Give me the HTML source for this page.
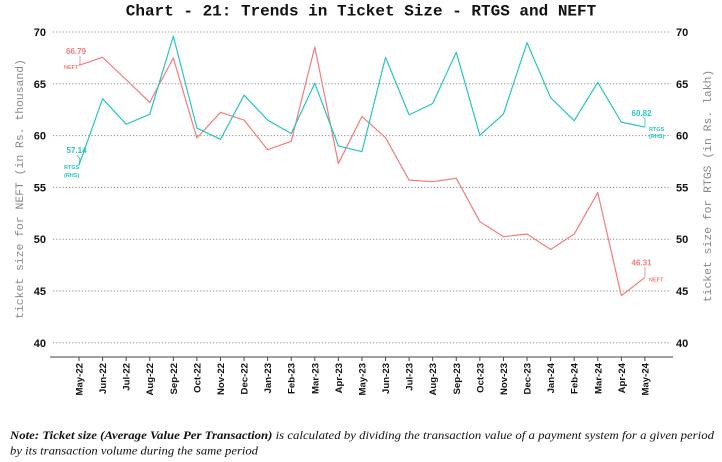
<!DOCTYPE html>
<html>
<head>
<meta charset="utf-8">
<style>
html,body{margin:0;padding:0;background:#fff;}
svg{display:block;}
</style>
</head>
<body>
<svg width="722" height="462" viewBox="0 0 722 462" xmlns="http://www.w3.org/2000/svg">
<rect width="722" height="462" fill="#fff"/>
<!-- Title -->
<text x="361" y="15.5" text-anchor="middle" font-family="'Liberation Mono', monospace" font-weight="bold" font-size="16" fill="#111">Chart - 21: Trends in Ticket Size - RTGS and NEFT</text>

<!-- Gridlines -->
<g stroke="#8c8c8c" stroke-width="1" stroke-dasharray="1.2,2" fill="none">
<line x1="53" y1="32" x2="671" y2="32"/>
<line x1="53" y1="83.8" x2="671" y2="83.8"/>
<line x1="53" y1="135.6" x2="671" y2="135.6"/>
<line x1="53" y1="187.4" x2="671" y2="187.4"/>
<line x1="53" y1="239.2" x2="671" y2="239.2"/>
<line x1="53" y1="291" x2="671" y2="291"/>
<line x1="53" y1="342.8" x2="671" y2="342.8"/>
</g>

<!-- Axis line -->
<line x1="50" y1="357" x2="673" y2="357" stroke="#a0a0a0" stroke-width="2"/>
<g stroke="#444" stroke-width="1">
<line x1="79" y1="357" x2="79" y2="361"/>
<line x1="102.58" y1="357" x2="102.58" y2="361"/>
<line x1="126.16" y1="357" x2="126.16" y2="361"/>
<line x1="149.74" y1="357" x2="149.74" y2="361"/>
<line x1="173.32" y1="357" x2="173.32" y2="361"/>
<line x1="196.9" y1="357" x2="196.9" y2="361"/>
<line x1="220.48" y1="357" x2="220.48" y2="361"/>
<line x1="244.06" y1="357" x2="244.06" y2="361"/>
<line x1="267.64" y1="357" x2="267.64" y2="361"/>
<line x1="291.22" y1="357" x2="291.22" y2="361"/>
<line x1="314.8" y1="357" x2="314.8" y2="361"/>
<line x1="338.38" y1="357" x2="338.38" y2="361"/>
<line x1="361.96" y1="357" x2="361.96" y2="361"/>
<line x1="385.54" y1="357" x2="385.54" y2="361"/>
<line x1="409.12" y1="357" x2="409.12" y2="361"/>
<line x1="432.7" y1="357" x2="432.7" y2="361"/>
<line x1="456.28" y1="357" x2="456.28" y2="361"/>
<line x1="479.86" y1="357" x2="479.86" y2="361"/>
<line x1="503.44" y1="357" x2="503.44" y2="361"/>
<line x1="527.02" y1="357" x2="527.02" y2="361"/>
<line x1="550.6" y1="357" x2="550.6" y2="361"/>
<line x1="574.18" y1="357" x2="574.18" y2="361"/>
<line x1="597.76" y1="357" x2="597.76" y2="361"/>
<line x1="621.34" y1="357" x2="621.34" y2="361"/>
<line x1="644.92" y1="357" x2="644.92" y2="361"/>
</g>

<!-- Left tick labels -->
<g font-family="'Liberation Sans', Arial, sans-serif" font-weight="bold" font-size="11" fill="#111" text-anchor="end">
<text x="46" y="36">70</text>
<text x="46" y="87.8">65</text>
<text x="46" y="139.6">60</text>
<text x="46" y="191.4">55</text>
<text x="46" y="243.2">50</text>
<text x="46" y="295">45</text>
<text x="46" y="346.8">40</text>
</g>
<!-- Right tick labels -->
<g font-family="'Liberation Sans', Arial, sans-serif" font-weight="bold" font-size="11" fill="#111" text-anchor="start">
<text x="676" y="36">70</text>
<text x="676" y="87.8">65</text>
<text x="676" y="139.6">60</text>
<text x="676" y="191.4">55</text>
<text x="676" y="243.2">50</text>
<text x="676" y="295">45</text>
<text x="676" y="346.8">40</text>
</g>

<!-- Axis titles -->
<text transform="translate(23,189) rotate(-90)" text-anchor="middle" font-family="'Liberation Mono', monospace" font-size="11.4" fill="#8a8a8a">ticket size for NEFT (in Rs. thousand)</text>
<text transform="translate(711,186) rotate(-90)" text-anchor="middle" font-family="'Liberation Mono', monospace" font-size="11.4" fill="#8a8a8a">ticket size for RTGS (in Rs. lakh)</text>

<!-- X labels -->
<g font-family="'Liberation Sans', Arial, sans-serif" font-weight="bold" font-size="9.6" fill="#111" text-anchor="end">
<text transform="translate(82.5,363) rotate(-90)">May-22</text>
<text transform="translate(106.08,363) rotate(-90)">Jun-22</text>
<text transform="translate(129.66,363) rotate(-90)">Jul-22</text>
<text transform="translate(153.24,363) rotate(-90)">Aug-22</text>
<text transform="translate(176.82,363) rotate(-90)">Sep-22</text>
<text transform="translate(200.4,363) rotate(-90)">Oct-22</text>
<text transform="translate(223.98,363) rotate(-90)">Nov-22</text>
<text transform="translate(247.56,363) rotate(-90)">Dec-22</text>
<text transform="translate(271.14,363) rotate(-90)">Jan-23</text>
<text transform="translate(294.72,363) rotate(-90)">Feb-23</text>
<text transform="translate(318.3,363) rotate(-90)">Mar-23</text>
<text transform="translate(341.88,363) rotate(-90)">Apr-23</text>
<text transform="translate(365.46,363) rotate(-90)">May-23</text>
<text transform="translate(389.04,363) rotate(-90)">Jun-23</text>
<text transform="translate(412.62,363) rotate(-90)">Jul-23</text>
<text transform="translate(436.2,363) rotate(-90)">Aug-23</text>
<text transform="translate(459.78,363) rotate(-90)">Sep-23</text>
<text transform="translate(483.36,363) rotate(-90)">Oct-23</text>
<text transform="translate(506.94,363) rotate(-90)">Nov-23</text>
<text transform="translate(530.52,363) rotate(-90)">Dec-23</text>
<text transform="translate(554.1,363) rotate(-90)">Jan-24</text>
<text transform="translate(577.68,363) rotate(-90)">Feb-24</text>
<text transform="translate(601.26,363) rotate(-90)">Mar-24</text>
<text transform="translate(624.84,363) rotate(-90)">Apr-24</text>
<text transform="translate(648.42,363) rotate(-90)">May-24</text>
</g>

<!-- NEFT series -->
<polyline fill="none" stroke="#F47C7C" stroke-width="1.2" stroke-linejoin="round" points="79,65.26 102.58,57.28 126.16,79.66 149.74,102.45 173.32,57.9 196.9,137.98 220.48,112.29 244.06,120.06 267.64,149.69 291.22,141.3 314.8,47.02 338.38,163.57 361.96,116.43 385.54,137.67 409.12,180.15 432.7,181.7 456.28,178.28 479.86,221.59 503.44,236.71 527.02,234.02 550.6,249.56 574.18,234.02 597.76,192.58 621.34,295.66 644.92,277.43"/>

<!-- RTGS series -->
<polyline fill="none" stroke="#27C6BE" stroke-width="1.2" stroke-linejoin="round" points="79,165.23 102.58,98.72 126.16,124.2 149.74,114.36 173.32,36.14 196.9,128.04 220.48,139.33 244.06,95.2 267.64,120.06 291.22,133.53 314.8,83.28 338.38,145.96 361.96,151.66 385.54,57.38 409.12,114.88 432.7,103.48 456.28,52.31 479.86,135.29 503.44,114.05 527.02,42.67 550.6,97.68 574.18,120.68 597.76,82.35 621.34,122.13 644.92,127.1"/>

<!-- Annotations -->
<g font-family="'Liberation Sans', Arial, sans-serif" font-weight="bold">
<text x="66" y="54" font-size="8" fill="#F47C7C">66.79</text>
<text x="64" y="69" font-size="5.5" fill="#F47C7C">NEFT</text>
<path d="M80,56 L80,64 L79,65" stroke="#F47C7C" stroke-width="0.8" fill="none"/>

<text x="66.5" y="153" font-size="8" fill="#27C6BE">57.14</text>
<text x="64" y="169" font-size="5.5" fill="#27C6BE">RTGS</text>
<text x="64" y="177" font-size="5.5" fill="#27C6BE">(RHS)</text>
<path d="M77,155 L80,159 L79,164" stroke="#27C6BE" stroke-width="0.8" fill="none"/>

<text x="631.5" y="116" font-size="8" fill="#27C6BE">60.82</text>
<text x="649" y="131" font-size="5.5" fill="#27C6BE">RTGS</text>
<text x="649" y="138" font-size="5.5" fill="#27C6BE">(RHS)</text>
<path d="M643,117 L645,119 L645,127" stroke="#27C6BE" stroke-width="0.8" fill="none"/>

<text x="631.5" y="265.5" font-size="8" fill="#F47C7C">46.31</text>
<text x="649" y="281.5" font-size="5.5" fill="#F47C7C">NEFT</text>
<path d="M645,267 L645,277" stroke="#F47C7C" stroke-width="0.8" fill="none"/>
</g>

<!-- Note -->
<text x="10" y="439" textLength="704" lengthAdjust="spacingAndGlyphs" font-family="'Liberation Serif', serif" font-style="italic" font-size="11.5" fill="#111"><tspan font-weight="bold">Note: Ticket size (Average Value Per Transaction)</tspan> is calculated by dividing the transaction value of a payment system for a given period</text>
<text x="10" y="454.5" textLength="248" lengthAdjust="spacingAndGlyphs" font-family="'Liberation Serif', serif" font-style="italic" font-size="11.5" fill="#111">by its transaction volume during the same period</text>
</svg>
</body>
</html>
